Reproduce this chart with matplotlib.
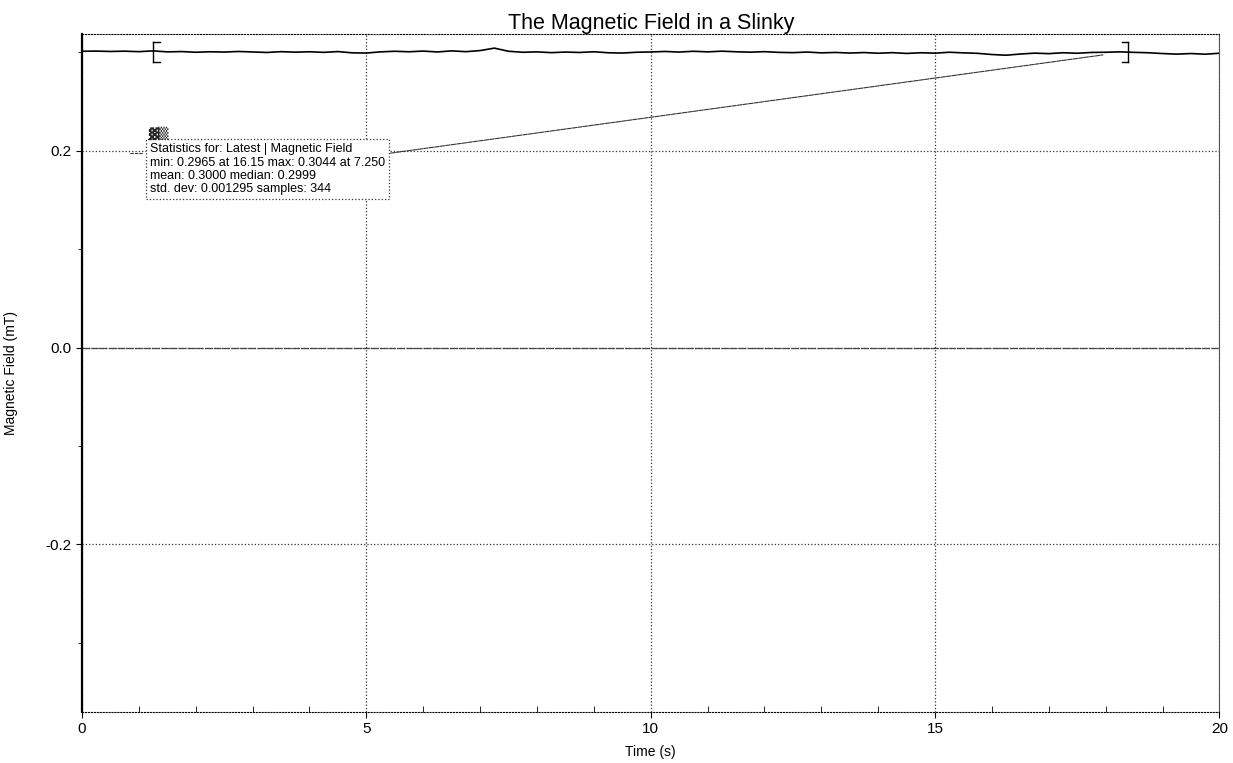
import matplotlib.pyplot as plt
from matplotlib.ticker import MultipleLocator

plt.rcParams['font.family'] = ['Liberation Sans', 'DejaVu Sans']

# readings, every 0.25 s
time = [i * 0.25 for i in range(81)]
field = [0.3008, 0.3010, 0.3006, 0.3009, 0.3004, 0.3012, 0.3002, 0.3005, 0.2998,
         0.3003, 0.3000, 0.3006, 0.3001, 0.2996, 0.3004, 0.2999, 0.3003, 0.2997,
         0.3005, 0.2992, 0.2990, 0.3002, 0.3008, 0.3003, 0.3010, 0.3001, 0.3012,
         0.3004, 0.3015, 0.3040, 0.3008, 0.2998, 0.3002, 0.2994, 0.3000, 0.2996,
         0.3003, 0.2993, 0.2990, 0.2998, 0.3001, 0.3006, 0.3000, 0.3008, 0.3002,
         0.3009, 0.3003, 0.2999, 0.3004, 0.2997, 0.2994, 0.3000, 0.2992, 0.2996,
         0.2990, 0.2995, 0.2988, 0.2994, 0.2986, 0.2993, 0.2989, 0.2998, 0.2992,
         0.2987, 0.2975, 0.2968, 0.2980, 0.2989, 0.2984, 0.2993, 0.2988, 0.2996,
         0.2998, 0.3002, 0.2997, 0.2993, 0.2985, 0.2979, 0.2985, 0.2978, 0.2988]

x_ticks = [0, 5, 10, 15, 20]
y_ticks = [-0.2, 0.0, 0.2]
y_ticklabels = ["-0.2", "0.0", "0.2"]

# statistics region
bracket_start = 1.25
bracket_end = 18.4
stats_lines = ["Statistics for: Latest | Magnetic Field",
               "min: 0.2965 at 16.15 max: 0.3044 at 7.250",
               "mean: 0.3000 median: 0.2999",
               "std. dev: 0.001295 samples: 344"]

fig = plt.figure(figsize=(12.33, 7.63), dpi=100)
ax = fig.add_axes([0.0665, 0.067, 0.9225, 0.888])

ax.plot(time, field, color='black', lw=1.2)

# brackets marking the analysed range
for xb, d in [(bracket_start, 0.12), (bracket_end, -0.12)]:
    ax.plot([xb, xb], [0.290, 0.310], color='black', lw=1)
    ax.plot([xb, xb + d], [0.310, 0.310], color='black', lw=1)
    ax.plot([xb, xb + d], [0.290, 0.290], color='black', lw=1)

ax.set_xlim(0, 20)
ax.set_ylim(-0.37, 0.318)
ax.set_xticks(x_ticks)
ax.set_xticklabels([str(t) for t in x_ticks])
ax.set_yticks(y_ticks)
ax.set_yticklabels(y_ticklabels)
ax.xaxis.set_minor_locator(MultipleLocator(1))
ax.yaxis.set_minor_locator(MultipleLocator(0.1))
ax.tick_params(which='major', direction='out', length=4, width=0.8, labelsize=11)
ax.tick_params(axis='x', which='minor', direction='in', length=4, width=0.6)
ax.tick_params(axis='y', which='minor', direction='out', length=3, width=0.6)

ax.grid(True, which='major', color='#333333', linestyle=':', linewidth=0.9)
ax.axhline(0, color='#444444', lw=0.9, ls=(0, (6, 1)))

ax.spines['left'].set_linewidth(1.6)
ax.spines['right'].set_color('#555555')
ax.spines['top'].set_linestyle(':')
ax.spines['bottom'].set_linestyle(':')

ax.set_title("The Magnetic Field in a Slinky", fontsize=15.5, pad=4)
ax.set_xlabel("Time (s)", fontsize=10, labelpad=6)
ax.set_ylabel("Magnetic Field (mT)", fontsize=10, labelpad=20)

# statistics box with leader line
ax.annotate("", xy=(18.0, 0.2975), xytext=(5.38, 0.197),
            arrowprops=dict(arrowstyle='-', color='#333333', lw=0.8, ls=(0, (4, 1))))
ax.plot([0.85, 1.07], [0.197, 0.197], color='#333333', lw=0.8, ls=(0, (3, 1)))
ax.text(1.2, 0.181, "\n".join(stats_lines), fontsize=9, va='center', ha='left',
        linespacing=1.15,
        bbox=dict(boxstyle='square,pad=0.3', fc='white', ec='#333333', ls=':', lw=0.9))
ax.text(1.17, 0.218, "\u2593\u2592", fontsize=9.5, va='center', ha='left',
        family=['DejaVu Sans'], color='#222222')

fig.savefig("out.png", dpi=100)
